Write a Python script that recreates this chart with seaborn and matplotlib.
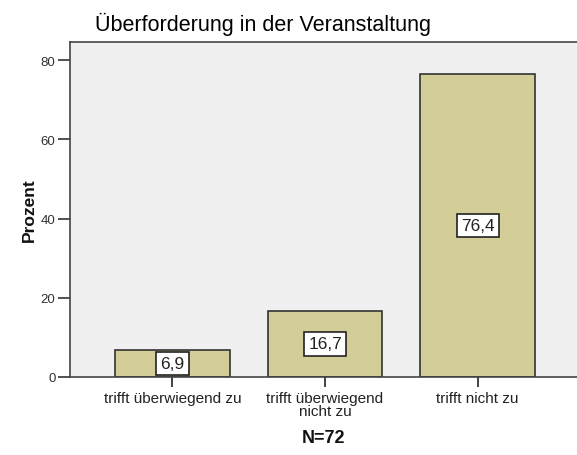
import matplotlib
matplotlib.use("Agg")
import matplotlib.pyplot as plt
import seaborn as sns
import pandas as pd

categories = ["trifft überwiegend zu", "trifft überwiegend\nnicht zu", "trifft nicht zu"]
prozent = [6.9, 16.7, 76.4]
value_labels = ["6,9", "16,7", "76,4"]
y_ticks = [0, 20, 40, 60, 80]

sns.set_style("white")
plt.rcParams["font.family"] = ["Liberation Sans", "DejaVu Sans"]

df = pd.DataFrame({"Kategorie": categories, "Prozent": prozent})

fig = plt.figure(figsize=(5.77, 4.56), dpi=100)
ax = fig.add_axes([70 / 577, 78 / 456, 507 / 577, 335 / 456])
ax.set_facecolor("#f0f0f0")

sns.barplot(data=df, x="Kategorie", y="Prozent", color="#d3ce97",
            saturation=1, width=0.75, edgecolor="#333333", linewidth=1.2, ax=ax)

for i, (v, lab) in enumerate(zip(prozent, value_labels)):
    ax.text(i, v / 2, lab, ha="center", va="center", fontsize=12.5, color="#222222",
            bbox=dict(boxstyle="square,pad=0.24", facecolor="white", edgecolor="#222222", linewidth=1.2))

ax.set_xlim(-0.67, 2.65)
ax.set_ylim(0, 84.6)
ax.set_yticks(y_ticks)
ax.set_yticklabels([str(t) for t in y_ticks], fontsize=9.5, color="#333333")
for t in ax.get_xticklabels():
    t.set_linespacing(0.95)
ax.tick_params(axis="x", labelsize=11, colors="#222222", length=7, width=1.2, direction="out", pad=3)
ax.tick_params(axis="y", length=9, width=1.2, direction="out", pad=1.5, colors="#333333")
ax.tick_params(bottom=True, left=True)

for side in ["left", "bottom", "top"]:
    ax.spines[side].set_visible(True)
    ax.spines[side].set_color("#444444")
    ax.spines[side].set_linewidth(1.2)
ax.spines["right"].set_visible(False)

ax.set_xlabel("N=72", fontsize=13, fontweight="bold", labelpad=8, color="#111111")
ax.set_ylabel("Prozent", fontsize=12.5, fontweight="bold", labelpad=3, color="#111111")

fig.text(95 / 577, 1 - 31 / 456, "Überforderung in der Veranstaltung", fontsize=15.5,
         ha="left", va="baseline", color="black")

fig.savefig("out.png", dpi=100, facecolor="white")
